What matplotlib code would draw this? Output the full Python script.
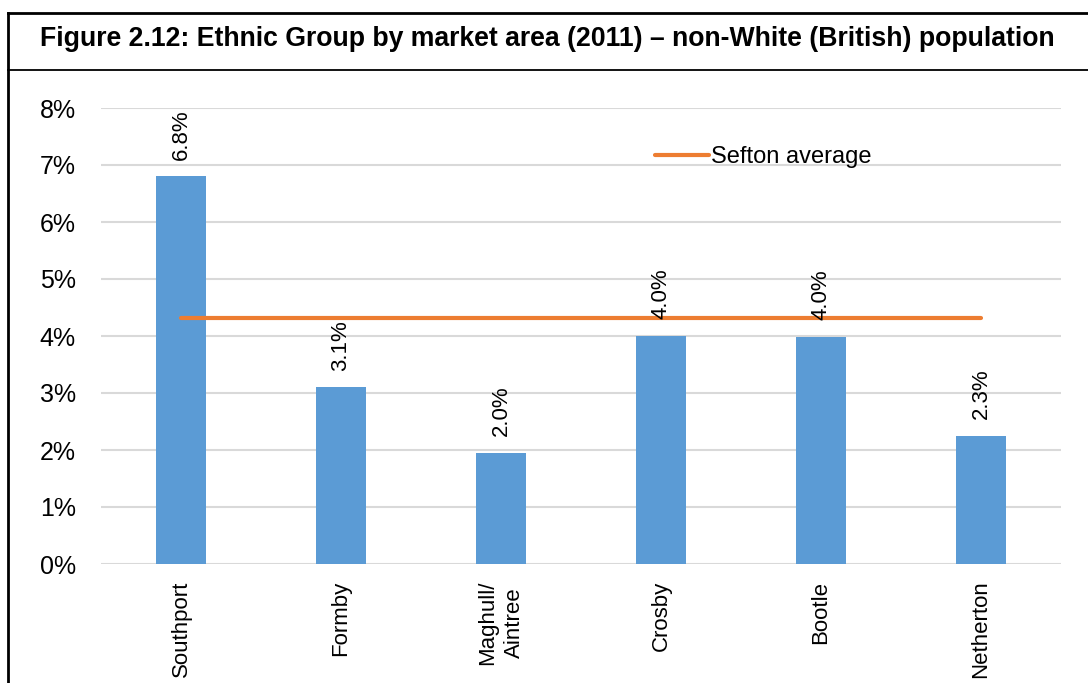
import matplotlib
matplotlib.use("Agg")
import matplotlib.pyplot as plt
from matplotlib.lines import Line2D
from matplotlib.ticker import PercentFormatter

areas = ["Southport", "Formby", "Maghull/\nAintree", "Crosby", "Bootle", "Netherton"]
share = [6.8, 3.1, 1.95, 4.0, 3.98, 2.25]
labels = ["6.8%", "3.1%", "2.0%", "4.0%", "4.0%", "2.3%"]
sefton_avg = 4.32

plt.rcParams["font.family"] = ["Liberation Sans", "DejaVu Sans"]

fig = plt.figure(figsize=(10.88, 6.83), dpi=100)
ax = fig.add_axes([101 / 1088, 1 - 564 / 683, 960 / 1088, 456 / 683])

x = list(range(len(areas)))
ax.bar(x, share, width=0.3125, color="#5b9bd5", zorder=2)
ax.plot([x[0], x[-1]], [sefton_avg, sefton_avg], color="#ed7d31", lw=3,
        solid_capstyle="round", label="Sefton average", zorder=3)

for xi, v, t in zip(x, share, labels):
    ax.annotate(t, (xi, v), xytext=(0, 12), textcoords="offset points",
                rotation=90, ha="center", va="bottom", fontsize=16)

ax.set_xlim(-0.5, len(areas) - 0.5)
ax.set_ylim(0, 8)
ax.set_yticks(range(0, 9))
ax.yaxis.set_major_formatter(PercentFormatter(decimals=0))
ax.set_xticks(x)
ax.set_xticklabels(areas, rotation=90, va="top", ha="center", fontsize=16,
                   linespacing=1.4)
ax.tick_params(axis="y", length=0, pad=18, labelsize=18)
ax.tick_params(axis="x", length=0, pad=12)
ax.grid(axis="y", color="#d9d9d9", lw=1.5, zorder=0)
for s in ax.spines.values():
    s.set_visible(False)

ax.legend(loc="center left", bbox_to_anchor=(643 / 1088, 1 - 157 / 683),
          bbox_transform=fig.transFigure, frameon=False, fontsize=17,
          borderpad=0, handlelength=2.3, handletextpad=0.1)

# frame and title box
fig.add_artist(Line2D([8 / 1088, 1], [1 - 13 / 683, 1 - 13 / 683], color="black", lw=2))
fig.add_artist(Line2D([8 / 1088, 8 / 1088], [0, 1 - 13 / 683], color="black", lw=2))
fig.add_artist(Line2D([8 / 1088, 1], [1 - 70 / 683, 1 - 70 / 683], color="black", lw=1.3))
fig.text(40 / 1088, 1 - 39 / 683,
         "Figure 2.12: Ethnic Group by market area (2011) \u2013 non-White (British) population",
         fontsize=19.2, fontweight="bold",
         va="center", ha="left")

fig.savefig("out.png", dpi=100)
